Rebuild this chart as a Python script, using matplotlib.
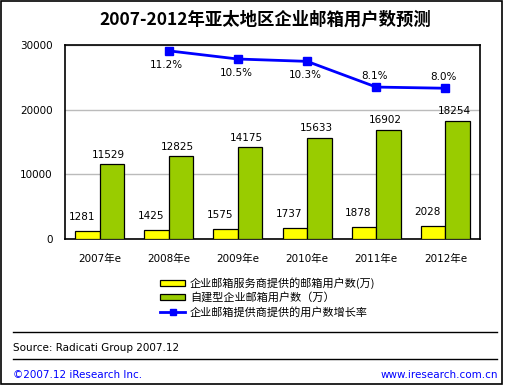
import matplotlib
matplotlib.use("Agg")
import matplotlib.pyplot as plt
from matplotlib.patches import Rectangle
from matplotlib.lines import Line2D
import numpy as np

plt.rcParams['font.family'] = ['DejaVu Sans', 'Noto Sans CJK SC']

categories = ["2007年e", "2008年e", "2009年e", "2010年e", "2011年e", "2012年e"]
provider_users = [1281, 1425, 1575, 1737, 1878, 2028]
self_built_users = [11529, 12825, 14175, 15633, 16902, 18254]
growth_years = ["2008年e", "2009年e", "2010年e", "2011年e", "2012年e"]
growth_rate = [11.2, 10.5, 10.3, 8.1, 8.0]
y_ticks = [0, 10000, 20000, 30000]

title = "2007-2012年亚太地区企业邮箱用户数预测"
legend_labels = ["企业邮箱服务商提供的邮箱用户数(万)", "自建型企业邮箱用户数（万）", "企业邮箱提供商提供的用户数增长率"]

FS = 7.5
W, H = 509, 386
fig = plt.figure(figsize=(W / 100, H / 100), dpi=100)

def fx(px):
    return px / W

def fy(py):
    return 1 - py / H

# outer border
fig.patches.append(Rectangle((fx(1), fy(384)), fx(502) - fx(1), fy(1) - fy(384),
                             transform=fig.transFigure, fill=False, edgecolor='black', linewidth=1.2))

fig.text(fx(265), fy(20), title, ha='center', va='center', fontsize=12.5, fontweight='bold',
         family=['Noto Sans CJK SC', 'DejaVu Sans'])

left, right, top, bottom = 65, 480, 45, 239
ax = fig.add_axes([fx(left), fy(bottom), fx(right) - fx(left), fy(top) - fy(bottom)])
x = np.arange(len(categories))
bw = 0.355
ax.bar(x - bw / 2, provider_users, bw, color='#FFFF00', edgecolor='black', linewidth=0.9, zorder=3)
ax.bar(x + bw / 2, self_built_users, bw, color='#99CC00', edgecolor='black', linewidth=0.9, zorder=3)
for xi, v in zip(x, provider_users):
    ax.text(xi - bw / 2 - 0.08, v + 1300, str(v), ha='center', va='bottom', fontsize=FS)
for xi, v in zip(x, self_built_users):
    ax.text(xi + bw / 2 - 0.05, v + 700, str(v), ha='center', va='bottom', fontsize=FS)

ax.set_xlim(-0.5, len(categories) - 0.5)
ax.set_ylim(0, 30000)
ax.set_yticks(y_ticks)
ax.set_yticklabels([str(t) for t in y_ticks], fontsize=FS)
ax.set_xticks(x)
ax.set_xticklabels(categories, fontsize=FS)
ax.tick_params(axis='both', length=0, pad=9)
ax.tick_params(axis='x', pad=11)
ax.yaxis.grid(True, color='#BBBBBB', linewidth=1, zorder=0)
ax.set_axisbelow(True)
for s in ax.spines.values():
    s.set_linewidth(1.2)

ax2 = ax.twinx()
gx = [categories.index(c) for c in growth_years]
ax2.plot(gx, growth_rate, color='#0000FF', linewidth=2, marker='s', markersize=6, zorder=4)
ax2.set_ylim(-4.9, 11.7)
ax2.set_yticks([])
for xi, r in zip(gx, growth_rate):
    if r > 9:
        ax2.text(xi - 0.03, r - 0.75, f"{r:.1f}%", ha='center', va='top', fontsize=FS)
    else:
        ax2.text(xi - 0.03, r + 0.55, f"{r:.1f}%", ha='center', va='bottom', fontsize=FS)
for s in ax2.spines.values():
    s.set_visible(False)
ax2.set_xlim(-0.5, len(categories) - 0.5)

# legend
rows = [283, 297, 312]
fig.patches.append(Rectangle((fx(160), fy(286)), fx(185) - fx(160), fy(280) - fy(286),
                             transform=fig.transFigure, facecolor='#FFFF00', edgecolor='black', linewidth=0.9))
fig.patches.append(Rectangle((fx(160), fy(300)), fx(185) - fx(160), fy(294) - fy(300),
                             transform=fig.transFigure, facecolor='#99CC00', edgecolor='black', linewidth=0.9))
fig.lines.append(Line2D([fx(160), fx(185)], [fy(312), fy(312)], transform=fig.transFigure,
                        color='#0000FF', linewidth=2, marker=None))
fig.lines.append(Line2D([fx(172.5)], [fy(312)], transform=fig.transFigure,
                        color='#0000FF', marker='s', markersize=5))
for ry, lab in zip(rows, legend_labels):
    fig.text(fx(190), fy(ry), lab, ha='left', va='center', fontsize=8,
             family=['Noto Sans CJK SC', 'DejaVu Sans'])

# separator lines
for ly in [332, 359]:
    fig.lines.append(Line2D([fx(13), fx(497)], [fy(ly), fy(ly)], transform=fig.transFigure,
                            color='black', linewidth=1))

fig.text(fx(13), fy(348), "Source: Radicati Group 2007.12", ha='left', va='center', fontsize=FS)
fig.text(fx(13), fy(375), "©2007.12 iResearch Inc.", ha='left', va='center', fontsize=FS, color='#0000FF')
fig.text(fx(498), fy(375), "www.iresearch.com.cn", ha='right', va='center', fontsize=FS, color='#0000FF')

fig.savefig("out.png", dpi=100)
